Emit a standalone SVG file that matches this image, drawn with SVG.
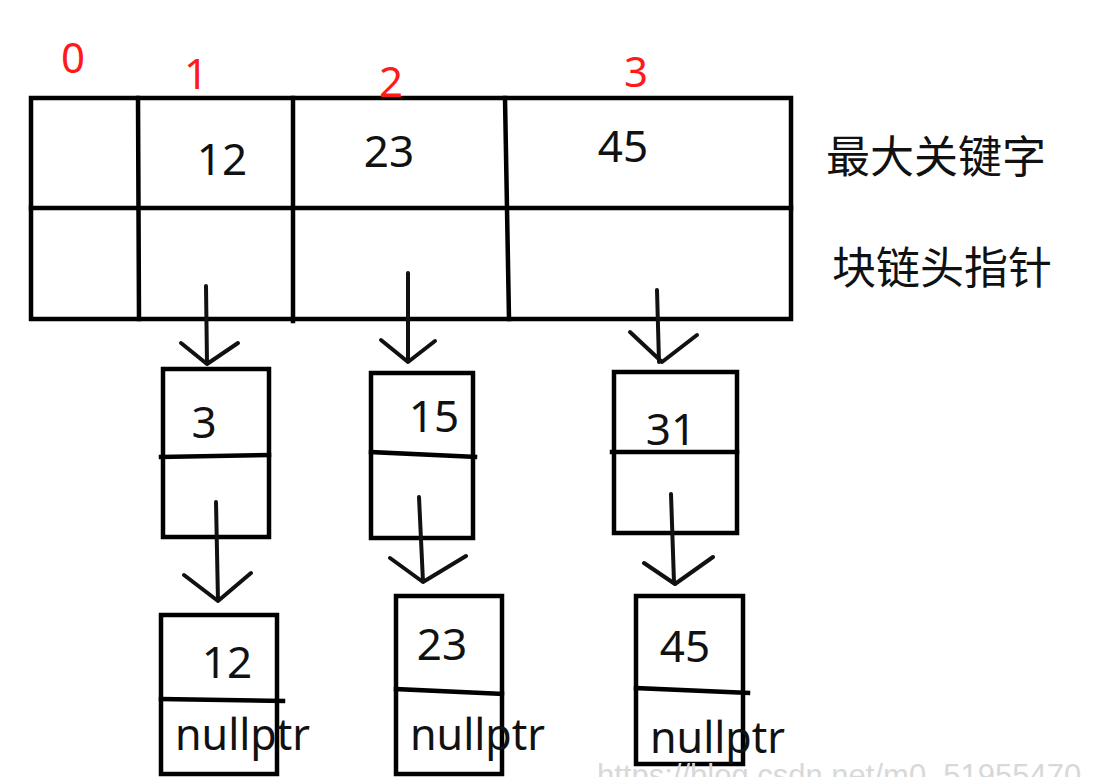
<svg xmlns="http://www.w3.org/2000/svg" width="1108" height="777" viewBox="0 0 1108 777">
<style>
.ln{fill:none;stroke:#000;stroke-width:4.5;stroke-linecap:square;stroke-linejoin:miter}
.cn{fill:none;stroke:#111;stroke-width:4;stroke-linecap:round;stroke-linejoin:round}
.num{font-family:"Noto Sans","Open Sans","Liberation Sans",sans-serif;font-size:44px;fill:#111;text-anchor:middle}
.idx{font-family:"Noto Sans","Open Sans","Liberation Sans",sans-serif;font-size:42px;fill:#ff1a1a;text-anchor:middle}
.np{font-family:"Noto Sans","Open Sans","Liberation Sans",sans-serif;font-size:43px;fill:#111}
.cjk{font-family:"Noto Sans CJK SC","Noto Sans",sans-serif;font-size:44px;fill:#111}
.wm{font-family:"Liberation Sans","Noto Sans",sans-serif;font-size:31px;fill:#d8d8d8}
</style>
<rect width="1108" height="777" fill="#fff"/>

<g id="index-table">
  <rect class="ln" x="31" y="98" width="760" height="221"/>
  <line class="ln" x1="31" y1="208" x2="791" y2="208"/>
  <line class="ln" x1="138" y1="98" x2="139" y2="319"/>
  <line class="ln" x1="293" y1="98" x2="293" y2="321"/>
  <line class="ln" x1="505" y1="98" x2="509" y2="319"/>
  <text class="num" x="222" y="175">12</text>
  <text class="num" x="389" y="167">23</text>
  <text class="num" x="623" y="162">45</text>
</g>

<g id="index-labels">
  <text class="idx" x="73" y="73">0</text>
  <text class="idx" x="196" y="89">1</text>
  <text class="idx" x="391" y="97">2</text>
  <text class="idx" x="636" y="87">3</text>
  <text class="cjk" x="826" y="173">最大关键字</text>
  <text class="cjk" x="832" y="284">块链头指针</text>
</g>

<g id="block1-node1">
  <rect class="ln" x="163" y="369" width="106" height="168"/>
  <line class="ln" x1="161" y1="457" x2="269" y2="455"/>
  <text class="num" x="204" y="438">3</text>
</g>
<g id="block1-node2">
  <rect class="ln" x="161" y="615" width="116" height="159"/>
  <line class="ln" x1="161" y1="699" x2="283" y2="701"/>
  <text class="num" x="227" y="678">12</text>
  <text class="np" x="175" y="750">nullptr</text>
</g>

<g id="block2-node1">
  <rect class="ln" x="371" y="373" width="102" height="165"/>
  <line class="ln" x1="371" y1="452" x2="475" y2="457"/>
  <text class="num" x="434" y="432">15</text>
</g>
<g id="block2-node2">
  <rect class="ln" x="396" y="596" width="106" height="178"/>
  <line class="ln" x1="396" y1="689" x2="502" y2="694"/>
  <text class="num" x="442" y="660">23</text>
  <text class="np" x="410" y="750">nullptr</text>
</g>

<g id="block3-node1">
  <rect class="ln" x="614" y="372" width="123" height="161"/>
  <line class="ln" x1="612" y1="452" x2="737" y2="452"/>
  <text class="num" x="671" y="445">31</text>
</g>
<g id="block3-node2">
  <rect class="ln" x="636" y="596" width="107" height="168"/>
  <line class="ln" x1="636" y1="688" x2="748" y2="693"/>
  <text class="num" x="685" y="662">45</text>
  <text class="np" x="650" y="753">nullptr</text>
</g>

<g id="connectors">
  <path class="cn" d="M206 286 L207 364 M181 343 L207 364 L238 343"/>
  <path class="cn" d="M408 273 L408 362 M381 340 L408 362 L435 341"/>
  <path class="cn" d="M657 290 L659 362 M630 332 L662 362 L697 335"/>
  <path class="cn" d="M216 502 L218 601 M184 575 L218 601 L251 573"/>
  <path class="cn" d="M419 497 L423 582 M390 558 L423 582 L466 556"/>
  <path class="cn" d="M671 494 L674 582 M644 563 L675 584 L713 557"/>
</g>

<text class="wm" x="597" y="786">https://blog.csdn.net/m0_51955470</text>
</svg>
